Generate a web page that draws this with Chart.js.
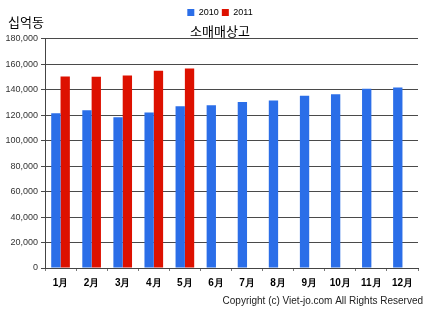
<!DOCTYPE html>
<html>
<head>
<meta charset="utf-8">
<script src="https://cdn.jsdelivr.net/npm/chart.js@4.4.1/dist/chart.umd.min.js"></script>
<style>
  html, body { margin: 0; padding: 0; background: #fff; }
  #wrap { width: 432px; height: 322px; position: relative; }
</style>
</head>
<body>
<div id="wrap"><canvas id="chart"></canvas></div>
<script>
const months = ["1月", "2月", "3月", "4月", "5月", "6月", "7月", "8月", "9月", "10月", "11月", "12月"];
const sales2010 = [121500, 123700, 118200, 122100, 127000, 127800, 130200, 131500, 135200, 136400, 140600, 141700];
const sales2011 = [150300, 150000, 151000, 154700, 156500, null, null, null, null, null, null, null];
const yTicks = [0, 20000, 40000, 60000, 80000, 100000, 120000, 140000, 160000, 180000];

// title and legend sit a bit right of the canvas centre in the original
const shiftHeader = {
  id: "shiftHeader",
  afterLayout(chart) {
    for (const box of [chart.titleBlock, chart.legend]) {
      if (box) {
        box.left += 11;
        box.right += 11;
      }
    }
  },
};

const extraText = {
  id: "extraText",
  afterDraw(chart) {
    const ctx = chart.ctx;
    ctx.save();
    ctx.fillStyle = "#000";
    ctx.font = "13px 'Noto Sans CJK KR'";
    ctx.textBaseline = "middle";
    ctx.textAlign = "left";
    ctx.fillText("십억동", 8, 22);
    ctx.font = "10px 'Liberation Sans'";
    ctx.textAlign = "right";
    ctx.fillStyle = "#222";
    ctx.fillText("Copyright (c) Viet-jo.com All Rights Reserved", 423, 301);
    ctx.restore();
  },
};

new Chart(document.getElementById("chart"), {
  type: "bar",
  data: {
    labels: months,
    datasets: [
      { label: "2010", data: sales2010, backgroundColor: "#2b6ee8" },
      { label: "2011", data: sales2011, backgroundColor: "#dd1100" },
    ],
  },
  options: {
    responsive: true,
    maintainAspectRatio: false,
    animation: false,
    layout: { padding: { left: 0, right: 14, top: 5, bottom: 30 } },
    datasets: { bar: { categoryPercentage: 0.6, barPercentage: 1 } },
    scales: {
      x: {
        grid: { display: true, drawOnChartArea: false, offset: true, tickLength: 3, color: "#777" },
        border: { color: "#444" },
        ticks: { color: "#000", font: { family: "'Liberation Sans'", size: 10, weight: "bold" }, padding: 6, maxRotation: 0 },
        afterFit(scale) { scale.height = 24; },
      },
      y: {
        min: 0,
        max: 180000,
        afterBuildTicks(scale) { scale.ticks = yTicks.map((value) => ({ value })); },
        grid: { color: "#4a4a4a", tickLength: 4 },
        border: { color: "#444" },
        ticks: {
          color: "#333",
          font: { family: "'Liberation Sans'", size: 9 },
          padding: 3,
          callback: (value) => value.toLocaleString("en-US"),
        },
        afterFit(scale) { scale.width = 45; },
      },
    },
    plugins: {
      legend: {
        position: "top",
        weight: 3000,
        labels: { boxWidth: 7, boxHeight: 7, padding: 3, color: "#000", font: { family: "'Liberation Sans'", size: 9 } },
      },
      title: {
        display: true,
        text: "소매매상고",
        color: "#000",
        font: { family: "'Noto Sans CJK KR'", size: 13, weight: "normal" },
        padding: { top: -4, bottom: 0 },
      },
      tooltip: { enabled: false },
    },
  },
  plugins: [shiftHeader, extraText],
});
</script>
</body>
</html>
